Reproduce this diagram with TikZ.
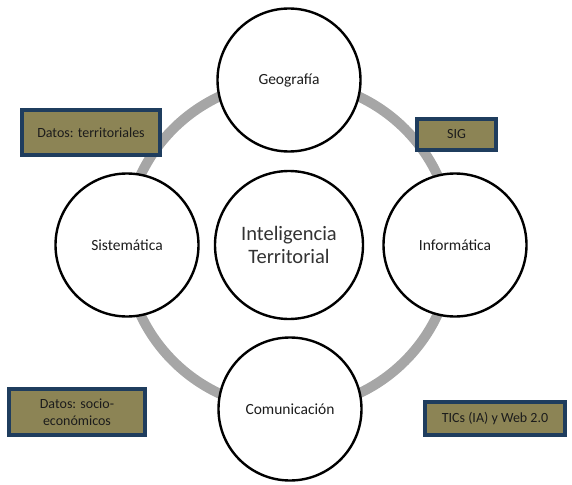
\documentclass[tikz,border=0pt]{standalone}
\usepackage{fontspec}
\setmainfont{Carlito}
\usetikzlibrary{positioning}
\definecolor{ringgray}{HTML}{A6A6A6}
\definecolor{boxfill}{HTML}{8C8455}
\definecolor{boxline}{HTML}{1F3D5E}
\definecolor{txt}{HTML}{1C1C1C}
\tikzset{
    topic/.style={circle,draw=black,line width=2.4pt,fill=white,minimum size=143pt,inner sep=0pt,text=txt,font=\fontsize{15.5}{18}\selectfont},
    tag/.style={draw=boxline,line width=3.5pt,fill=boxfill,text=txt,align=center,font=\fontsize{14}{17.5}\selectfont}
}
\begin{document}
\begin{tikzpicture}[x=1pt,y=-1pt]
        \useasboundingbox (0,0) rectangle (572,484);

        \draw[ringgray,line width=10pt] (289,245) circle (164);

        \node[topic,minimum size=148pt,font=\fontsize{20.5}{23.5}\selectfont,text=txt!90,align=center] (ti) at (289,245) {Inteligencia\\Territorial};
        \node[topic] (geo) at (289,80) {Geografía};
        \node[topic] (sis) at (127,245) {Sistemática};
        \node[topic] (inf) at (455,245) {Informática};
        \node[topic] (com) at (290,409) {Comunicación};

        \node[tag,minimum width=138pt,minimum height=45pt] (dt) at (91,132.5) {Datos: territoriales};
        \node[tag,minimum width=79pt,minimum height=31pt] (sig) at (456.5,134.5) {SIG};
        \node[tag,minimum width=136pt,minimum height=46pt] (ds) at (77,412) {Datos: socio-\\económicos};
        \node[tag,minimum width=140pt,minimum height=33pt] (tic) at (495,418.5) {TICs (IA) y Web 2.0};
\end{tikzpicture}
\end{document}
